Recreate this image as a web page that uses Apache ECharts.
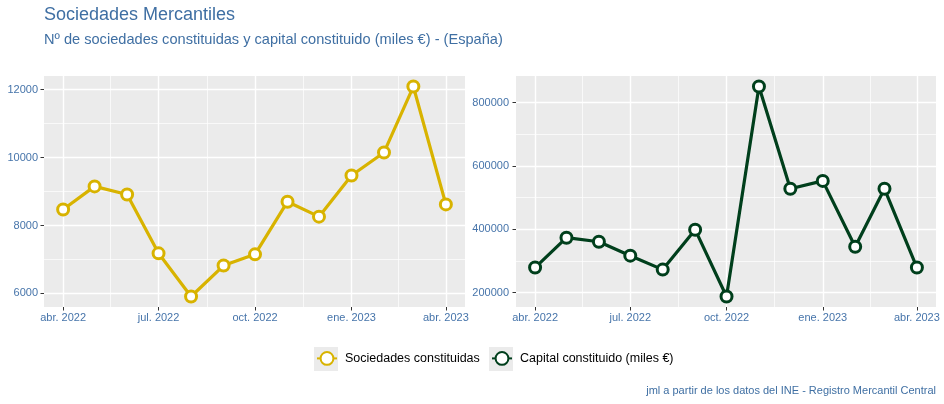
<!DOCTYPE html>
<html>
<head>
<meta charset="utf-8">
<script src="https://cdn.jsdelivr.net/npm/echarts@6/dist/echarts.min.js"></script>
<style>html,body{margin:0;padding:0;background:#fff}#c{width:944px;height:404px}</style>
</head>
<body>
<div id="c"></div>
<script>
// ---- data ----
const months = ['2022-04','2022-05','2022-06','2022-07','2022-08','2022-09','2022-10','2022-11','2022-12','2023-01','2023-02','2023-03','2023-04'];
const sociedades = [8470, 9150, 8910, 7180, 5910, 6820, 7150, 8700, 8260, 9470, 10150, 12090, 8620];
const capital = [279500, 373700, 361000, 317000, 273000, 399000, 188000, 851000, 528000, 553000, 345000, 528000, 279500];
const xTickMonths = ['2022-04','2022-07','2022-10','2023-01','2023-04'];
const xTickLabels = ['abr. 2022','jul. 2022','oct. 2022','ene. 2023','abr. 2023'];
const xMinorMonths = ['2022-05-16','2022-08-16','2022-11-16','2023-02-15'];
const yTicksSoc = [6000, 8000, 10000, 12000];
const yMinorSoc = [7000, 9000, 11000];
const yTicksCap = [200000, 400000, 600000, 800000];
const yMinorCap = [300000, 500000, 700000];
const seriesNames = ['Sociedades constituidas', 'Capital constituido (miles €)'];
const titleText = 'Sociedades Mercantiles';
const subtitleText = 'Nº de sociedades constituidas y capital constituido (miles €) - (España)';
const captionText = 'jml a partir de los datos del INE - Registro Mercantil Central';

// ---- helpers ----
function ts(s) {
  const p = s.split('-');
  return Date.UTC(+p[0], +p[1] - 1, p[2] ? +p[2] : 1);
}
const DAY = 86400000;
const xMin = ts(months[0]) - 18.25 * DAY;
const xMax = ts(months[months.length - 1]) + 18.25 * DAY;
const labelMap = {};
xTickMonths.forEach((m, i) => { labelMap[ts(m)] = xTickLabels[i]; });

const FONT = '"Liberation Sans", Arial, sans-serif';
const BLUE = '#3f6fa3';
const LABEL_BLUE = '#4674aa';
const YELLOW = '#D8B300';
const GREEN = '#003F1C';
const GRID_BG = '#EBEBEB';

function mainX(gi) {
  return {
    type: 'value', gridIndex: gi, min: xMin, max: xMax,
    axisLine: { show: false },
    axisTick: { show: true, length: 3.5, customValues: xTickMonths.map(ts), lineStyle: { color: '#333', width: 1 } },
    axisLabel: { customValues: xTickMonths.map(ts), margin: 5, fontSize: 11, color: LABEL_BLUE, fontFamily: FONT,
      formatter: function (v) { return labelMap[v] || ''; }, hideOverlap: false },
    splitLine: { show: true, lineStyle: { color: '#fff', width: 1.4 } }
  };
}
function minorX(gi) {
  return {
    type: 'value', gridIndex: gi, min: xMin, max: xMax, position: 'bottom',
    axisLine: { show: false },
    axisTick: { show: false, customValues: xMinorMonths.map(ts) },
    axisLabel: { show: false, customValues: xMinorMonths.map(ts) },
    splitLine: { show: true, lineStyle: { color: '#fff', width: 0.7 } }
  };
}
function mainY(gi, min, max, ticks, margin) {
  return {
    type: 'value', gridIndex: gi, min: min, max: max,
    axisLine: { show: false },
    axisTick: { show: true, length: 3.5, customValues: ticks, lineStyle: { color: '#333', width: 1 } },
    axisLabel: { customValues: ticks, margin: margin, fontSize: 11, color: LABEL_BLUE, fontFamily: FONT,
      formatter: function (v) { return String(v); } },
    splitLine: { show: true, lineStyle: { color: '#fff', width: 1.4 } }
  };
}
function minorY(gi, min, max, ticks) {
  return {
    type: 'value', gridIndex: gi, min: min, max: max, position: 'left',
    axisLine: { show: false },
    axisTick: { show: false, customValues: ticks },
    axisLabel: { show: false, customValues: ticks },
    splitLine: { show: true, lineStyle: { color: '#fff', width: 0.7 } }
  };
}

const chart = echarts.init(document.getElementById('c'), null, { renderer: 'canvas' });
const option = {
  animation: false,
  backgroundColor: '#fff',
  textStyle: { fontFamily: FONT },
  title: [
    { text: titleText, left: 44, top: 6, padding: 0, textStyle: { fontSize: 18, fontWeight: 'normal', color: BLUE, fontFamily: FONT } },
    { text: subtitleText, left: 44, top: 32, padding: 0, textStyle: { fontSize: 14.6, fontWeight: 'normal', color: BLUE, fontFamily: FONT } },
    { text: captionText, right: 8, top: 385, padding: 0, textStyle: { fontSize: 11, fontWeight: 'normal', color: BLUE, fontFamily: FONT } }
  ],
  graphic: [
    { type: 'rect', left: 314, top: 347, shape: { width: 24, height: 24 }, style: { fill: GRID_BG }, z: 0 },
    { type: 'rect', left: 489, top: 347, shape: { width: 24, height: 24 }, style: { fill: GRID_BG }, z: 0 }
  ],
  legend: [
    { data: [seriesNames[0]], left: 316, top: 351, padding: 0, itemWidth: 20, itemHeight: 16,
      textStyle: { fontSize: 12.5, color: '#000', fontFamily: FONT, padding: [0, 0, 0, 3] } },
    { data: [seriesNames[1]], left: 491, top: 351, padding: 0, itemWidth: 20, itemHeight: 16,
      textStyle: { fontSize: 12.5, color: '#000', fontFamily: FONT, padding: [0, 0, 0, 3] } }
  ],
  grid: [
    { left: 44, top: 76, width: 421, height: 231, show: true, backgroundColor: GRID_BG, borderWidth: 0 },
    { left: 516, top: 76, width: 420, height: 231, show: true, backgroundColor: GRID_BG, borderWidth: 0 }
  ],
  xAxis: [mainX(0), minorX(0), mainX(1), minorX(1)],
  yAxis: [
    mainY(0, 5600, 12400, yTicksSoc, 6),
    minorY(0, 5600, 12400, yMinorSoc),
    mainY(1, 155000, 884000, yTicksCap, 7),
    minorY(1, 155000, 884000, yMinorCap)
  ],
  series: [
    {
      name: seriesNames[0], type: 'line', xAxisIndex: 0, yAxisIndex: 0,
      data: months.map((m, i) => [ts(m), sociedades[i]]),
      symbol: 'circle', symbolSize: 11, showAllSymbol: true,
      lineStyle: { color: YELLOW, width: 3.2 },
      itemStyle: { color: '#fff', borderColor: YELLOW, borderWidth: 3 },
      z: 5
    },
    {
      name: seriesNames[1], type: 'line', xAxisIndex: 2, yAxisIndex: 2,
      data: months.map((m, i) => [ts(m), capital[i]]),
      symbol: 'circle', symbolSize: 11, showAllSymbol: true,
      lineStyle: { color: GREEN, width: 3.2 },
      itemStyle: { color: '#fff', borderColor: GREEN, borderWidth: 3 },
      z: 5
    }
  ]
};
chart.setOption(option);
</script>
</body>
</html>
